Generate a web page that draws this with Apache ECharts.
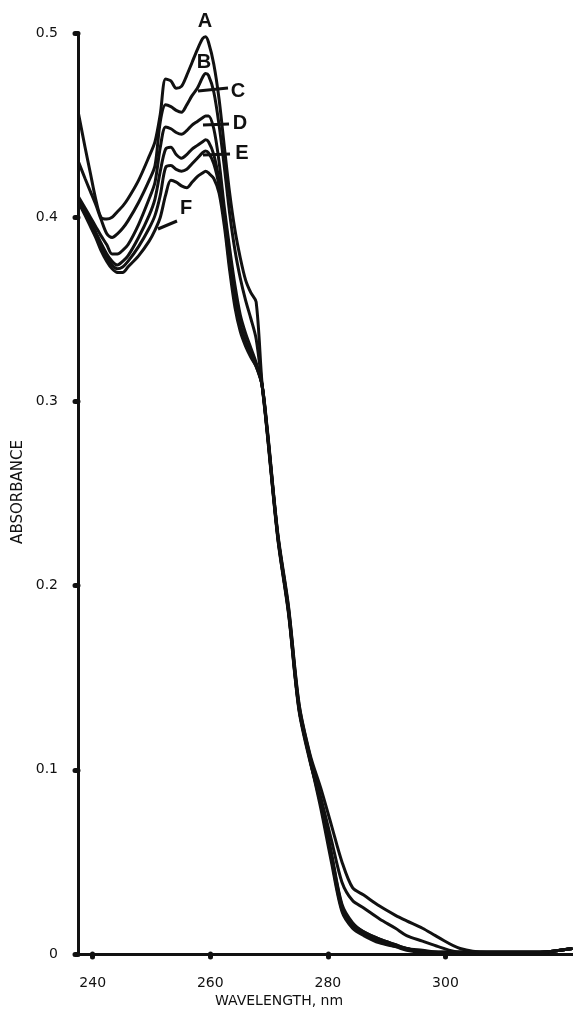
<!DOCTYPE html>
<html><head><meta charset="utf-8">
<script src="https://cdn.jsdelivr.net/npm/echarts@6/dist/echarts.min.js"></script>
<style>html,body{margin:0;padding:0;background:#fff}#c{width:573px;height:1011px}</style>
</head><body><div id="c"></div>
<script>
// wavelength (nm) sample points
const wavelengths = [237.6,238.7,239.6,240.5,241.4,242.4,243.3,244.2,245.1,246.0,
  247.8,249.6,250.6,251.5,252.4,253.3,254.2,255.1,256.0,256.9,
  257.8,258.7,259.2,259.7,260.6,261.5,262.4,263.3,264.2,265.1,
  266.0,266.9,267.8,268.8,269.7,271.5,273.3,275.1,277.0,278.8,
  280.6,282.4,284.2,286.1,288.8,291.5,293.4,296.1,298.8,302.5,
  307.0,311.6,316.1,321.6];
// absorbance for each curve
const absA = [0.456,0.438,0.424,0.410,0.400,0.399,0.400,0.403,0.406,0.410,
  0.420,0.433,0.441,0.456,0.475,0.474,0.470,0.471,0.477,0.484,
  0.491,0.497,0.498,0.495,0.483,0.464,0.438,0.413,0.393,0.378,
  0.366,0.359,0.354,0.310,0.283,0.226,0.186,0.133,0.105,0.081,
  0.052,0.024,0.015,0.011,0.007,0.004,0.003,0.001,0.001,0.001,
  0.001,0.001,0.001,0.003];
const absB = [0.430,0.421,0.414,0.407,0.399,0.391,0.389,0.391,0.394,0.398,
  0.408,0.420,0.428,0.452,0.461,0.460,0.458,0.457,0.461,0.466,
  0.470,0.476,0.478,0.477,0.468,0.450,0.427,0.402,0.382,0.367,
  0.355,0.345,0.334,0.309,0.284,0.227,0.187,0.134,0.106,0.082,
  0.054,0.026,0.016,0.012,0.008,0.005,0.003,0.002,0.001,0.001,
  0.001,0.001,0.001,0.003];
const absC = [0.411,0.405,0.400,0.395,0.390,0.385,0.380,0.380,0.382,0.385,
  0.396,0.410,0.419,0.438,0.449,0.448,0.446,0.445,0.447,0.450,
  0.452,0.454,0.455,0.455,0.448,0.430,0.405,0.383,0.363,0.347,
  0.337,0.329,0.321,0.309,0.282,0.225,0.185,0.132,0.104,0.083,
  0.055,0.027,0.017,0.012,0.008,0.005,0.003,0.001,0.001,0.001,
  0.001,0.001,0.001,0.003];
const absD = [0.410,0.403,0.398,0.392,0.386,0.380,0.376,0.374,0.376,0.379,
  0.389,0.401,0.410,0.425,0.437,0.438,0.434,0.432,0.434,0.437,
  0.439,0.441,0.442,0.441,0.434,0.420,0.400,0.377,0.357,0.342,
  0.333,0.326,0.320,0.309,0.283,0.226,0.186,0.133,0.105,0.079,
  0.050,0.023,0.014,0.010,0.006,0.004,0.002,0.001,0.001,0.001,
  0.001,0.001,0.001,0.003];
const absE = [0.409,0.402,0.396,0.390,0.384,0.378,0.374,0.372,0.373,0.376,
  0.384,0.394,0.401,0.412,0.427,0.428,0.426,0.425,0.426,0.429,
  0.432,0.435,0.436,0.435,0.429,0.417,0.398,0.374,0.354,0.340,
  0.331,0.325,0.319,0.309,0.284,0.227,0.188,0.135,0.107,0.085,
  0.062,0.039,0.029,0.025,0.019,0.014,0.010,0.007,0.004,0.001,
  0.001,0.001,0.001,0.003];
const absF = [0.408,0.401,0.395,0.389,0.382,0.376,0.372,0.370,0.370,0.373,
  0.379,0.387,0.393,0.400,0.412,0.420,0.419,0.417,0.416,0.419,
  0.422,0.424,0.425,0.424,0.421,0.413,0.395,0.371,0.351,0.338,
  0.330,0.324,0.319,0.309,0.285,0.228,0.189,0.136,0.108,0.090,
  0.070,0.050,0.036,0.032,0.026,0.021,0.018,0.014,0.009,0.003,
  0.001,0.001,0.001,0.003];
const curveNames = ['A','B','C','D','E','F'];
const xTickValues = [240,260,280,300];
const xTitle = 'WAVELENGTH, nm';
const yTitle = 'ABSORBANCE';

const curves = [absA,absB,absC,absD,absE,absF];
const ink = '#111';
const chart = echarts.init(document.getElementById('c'));
const tickFont = {color: ink, fontSize: 14, fontFamily: 'DejaVu Sans'};
const lblFont = 'bold 20px "Liberation Sans", Arial, sans-serif';
function lbl(t, x, y) {
  return {type:'text', x:x, y:y, z:10, style:{text:t, font:lblFont, fill:ink, align:'center', verticalAlign:'middle'}};
}
function leader(x1,y1,x2,y2) {
  return {type:'line', z:10, shape:{x1:x1,y1:y1,x2:x2,y2:y2}, style:{stroke:ink, lineWidth:3}};
}
chart.setOption({
  animation: false,
  backgroundColor: '#fff',
  grid: {left: 78, top: 33, width: 495, height: 921},
  xAxis: {
    type: 'value', min: 237.5, max: 321.7,
    axisLine: {show: true, onZero: false, lineStyle: {color: ink, width: 3}},
    axisTick: {show: true, customValues: xTickValues, length: 3, lineStyle: {color: ink, width: 5, cap: 'round'}},
    axisLabel: Object.assign({customValues: xTickValues, margin: 22}, tickFont),
    splitLine: {show: false}
  },
  yAxis: {
    type: 'value', min: 0, max: 0.5, interval: 0.1,
    axisLine: {show: true, lineStyle: {color: ink, width: 3}},
    axisTick: {show: true, length: 3, lineStyle: {color: ink, width: 5, cap: 'round'}},
    axisLabel: Object.assign({margin: 20}, tickFont),
    splitLine: {show: false}
  },
  series: curves.map((vals, k) => ({
    type: 'line', name: curveNames[k],
    data: wavelengths.map((w, i) => [w, vals[i]]),
    showSymbol: false, smooth: 0.3,
    lineStyle: {color: ink, width: 3},
    z: 3
  })),
  graphic: [
    {type:'text', x: 279, y: 1001, style:{text: xTitle, font:'14px "DejaVu Sans"', fill: ink, align:'center', verticalAlign:'middle'}},
    {type:'text', x: 18, y: 492, rotation: Math.PI/2, style:{text: yTitle, font:'15px "DejaVu Sans"', fill: ink, align:'center', verticalAlign:'middle'}},
    lbl(curveNames[0], 205, 21),
    lbl(curveNames[1], 204, 62),
    lbl(curveNames[2], 238, 91),
    lbl(curveNames[3], 240, 123),
    lbl(curveNames[4], 242, 153),
    lbl(curveNames[5], 186, 208),
    leader(198, 91, 228, 88),
    leader(203, 125, 229, 124),
    leader(203, 155, 230, 154),
    leader(158, 229, 177, 221)
  ]
});
</script>
</body></html>
